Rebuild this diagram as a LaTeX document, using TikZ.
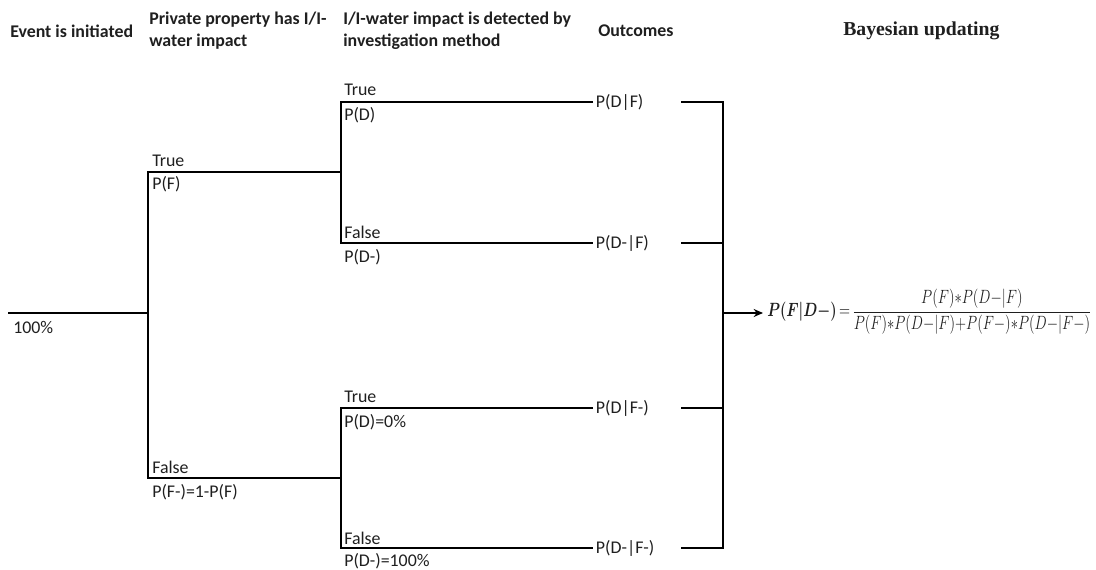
\documentclass[tikz,border=0pt]{standalone}
\usepackage{amsmath}
\usepackage{graphicx}
\usepackage{fontspec}
\setmainfont{Carlito}
\newfontfamily\headserif{Liberation Serif}
\usetikzlibrary{arrows.meta}
\begin{document}
\begin{tikzpicture}[x=0.75pt,y=-0.75pt,
  every node/.style={font=\fontsize{13.4}{16.5}\selectfont, text=black!88, inner sep=0pt},
  lab/.style={anchor=west},
  outc/.style={anchor=west, inner xsep=2pt},
  head/.style={anchor=west, align=left, font=\fontsize{13.4}{16.5}\selectfont\bfseries},
  branch/.style={draw=black, line width=1.3pt},
]
\useasboundingbox (0,0) rectangle (1096,570);

% headers
\node[head] (h1) at (10,31) {Event is initiated};
\node[head] (h2) at (149,31) {Private property has I/I-\\water impact};
\node[head] (h3) at (343,31) {I/I-water impact is detected by\\investigation method};
\node[head] (h4) at (598,31) {Outcomes};
\node[head, font=\fontsize{14.8}{16}\selectfont\headserif\bfseries] (h5) at (843,31) {Bayesian updating};

% junction coordinates
\coordinate (s) at (8,313);
\coordinate (j0) at (148,313);
\coordinate (fT) at (148,172);
\coordinate (fF) at (148,478);
\coordinate (j1) at (341,172);
\coordinate (j2) at (341,478);
\coordinate (dT1) at (341,102);
\coordinate (dF1) at (341,243);
\coordinate (dT2) at (341,408);
\coordinate (dF2) at (341,548);

% outcome nodes
\node[outc] (o1) at (593,102) {P(D|F)};
\node[outc] (o2) at (593,243) {P(D-|F)};
\node[outc] (o3) at (593,408) {P(D|F-)};
\node[outc] (o4) at (593,548) {P(D-|F-)};

\coordinate (r1) at (681,102);
\coordinate (r2) at (681,243);
\coordinate (r3) at (681,408);
\coordinate (r4) at (681,548);
\coordinate (b1) at (723,102);
\coordinate (b2) at (723,243);
\coordinate (b3) at (723,408);
\coordinate (b4) at (723,548);
\coordinate (bm) at (723,313);

\node[lab, font=\fontsize{14.5}{16}\selectfont] (eq) at (767,312) {\resizebox{243pt}{\height}{$\boldsymbol{P(F|D{-})}\,{=}\,\dfrac{P(F){\ast}P(D{-}|F)}{P(F){\ast}P(D{-}|F){+}P(F{-}){\ast}P(D{-}|F{-})}$}};

% tree
\draw[branch] (s) -- (j0);
\draw[branch] (j1) -- (fT) -- (fF) -- (j2);
\draw[branch] (o1.west) -- (dT1) -- (dF1) -- (o2.west);
\draw[branch] (o3.west) -- (dT2) -- (dF2) -- (o4.west);
\draw[branch] (r1) -- (b1) -- (b4) -- (r4);
\draw[branch] (r2) -- (b2);
\draw[branch] (r3) -- (b3);
\draw[branch, -{Stealth[length=7pt,width=6pt]}, shorten >=3pt] (bm) -- (eq.west |- bm);

% labels
\node[lab] (l100) at (13,327) {100\%};
\node[lab] (lft) at (152,161) {True};
\node[lab] (lfp) at (152,184) {P(F)};
\node[lab] (lff) at (152,467) {False};
\node[lab] (lffp) at (152,492) {P(F-)=1-P(F)};
\node[lab] (ld1t) at (344,90) {True};
\node[lab] (ld1p) at (344,115) {P(D)};
\node[lab] (ld1f) at (344,232) {False};
\node[lab] (ld1fp) at (344,257) {P(D-)};
\node[lab] (ld2t) at (344,397) {True};
\node[lab] (ld2p) at (344,422) {P(D)=0\%};
\node[lab] (ld2f) at (344,538) {False};
\node[lab] (ld2fp) at (344,561) {P(D-)=100\%};
\end{tikzpicture}
\end{document}
